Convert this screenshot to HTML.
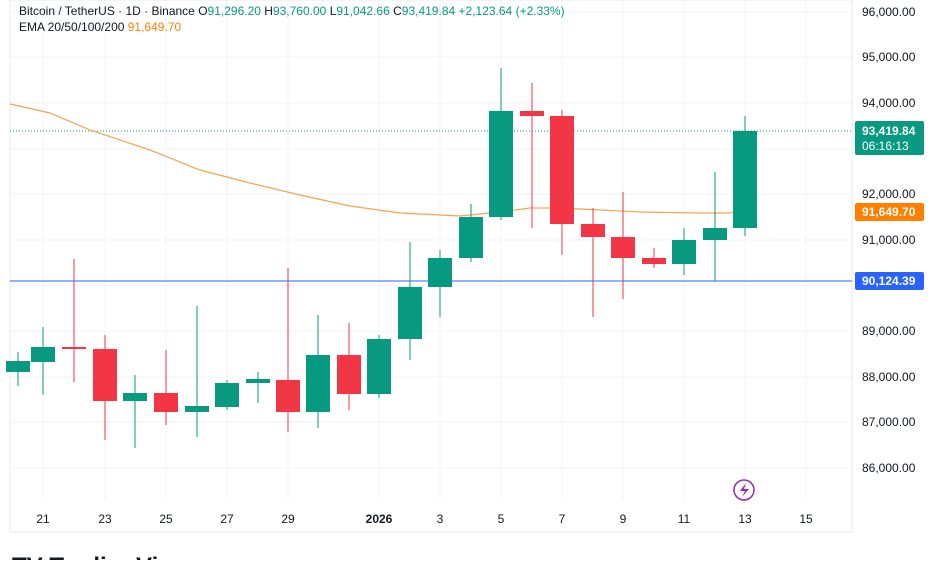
<!DOCTYPE html>
<html><head><meta charset="utf-8"><style>
body{margin:0;background:#fff;width:940px;height:560px;overflow:hidden;font-family:"Liberation Sans",sans-serif}
</style></head><body>
<svg width="940" height="560" xmlns="http://www.w3.org/2000/svg" font-family="Liberation Sans, sans-serif">
<rect width="940" height="560" fill="#fff"/>
<g stroke="#f0f3fa" stroke-width="1">
<line x1="43" y1="0" x2="43" y2="500"/><line x1="105" y1="0" x2="105" y2="500"/><line x1="166" y1="0" x2="166" y2="500"/><line x1="227" y1="0" x2="227" y2="500"/><line x1="288" y1="0" x2="288" y2="500"/><line x1="379" y1="0" x2="379" y2="500"/><line x1="440" y1="0" x2="440" y2="500"/><line x1="501" y1="0" x2="501" y2="500"/><line x1="562" y1="0" x2="562" y2="500"/><line x1="623" y1="0" x2="623" y2="500"/><line x1="684" y1="0" x2="684" y2="500"/><line x1="745" y1="0" x2="745" y2="500"/><line x1="806" y1="0" x2="806" y2="500"/>
<line x1="10" y1="12" x2="852" y2="12"/><line x1="10" y1="57" x2="852" y2="57"/><line x1="10" y1="103" x2="852" y2="103"/><line x1="10" y1="149" x2="852" y2="149"/><line x1="10" y1="194" x2="852" y2="194"/><line x1="10" y1="240" x2="852" y2="240"/><line x1="10" y1="286" x2="852" y2="286"/><line x1="10" y1="331" x2="852" y2="331"/><line x1="10" y1="377" x2="852" y2="377"/><line x1="10" y1="422" x2="852" y2="422"/><line x1="10" y1="468" x2="852" y2="468"/>
</g>
<rect x="10" y="0" width="842" height="532" fill="none" stroke="#e6e8ee"/>
<line x1="852" y1="0" x2="852" y2="532" stroke="#e6e8ee"/>
<line x1="10" y1="281" x2="852" y2="281" stroke="#2962ff" stroke-width="1"/>
<line x1="10" y1="131" x2="852" y2="131" stroke="#089981" stroke-dasharray="1 2"/>
<polyline fill="none" stroke="#f7a350" stroke-width="1.2" points="10,104 50,113 90,130 150,150 200,170 250,183 300,195 350,206 400,213 460,216 500,212 530,208 560,208 600,210 640,212 700,213 730,213 745,210"/>
<g id="c"></g>
<g font-size="12" fill="#131722">
<text x="862" y="16">96,000.00</text><text x="862" y="61">95,000.00</text><text x="862" y="107">94,000.00</text><text x="862" y="198">92,000.00</text><text x="862" y="244">91,000.00</text><text x="862" y="335">89,000.00</text><text x="862" y="381">88,000.00</text><text x="862" y="426">87,000.00</text><text x="862" y="472">86,000.00</text>
</g>
<rect x="855" y="121" width="69" height="34" rx="2" fill="#089981"/>
<text x="862" y="135" font-size="12" font-weight="bold" fill="#fff">93,419.84</text>
<text x="862" y="150" font-size="12" fill="#fff">06:16:13</text>
<rect x="855" y="203" width="69" height="18" rx="2" fill="#ff7f00"/>
<text x="862" y="216" font-size="12" font-weight="bold" fill="#fff">91,649.70</text>
<rect x="855" y="272" width="69" height="18" rx="2" fill="#2962ff"/>
<text x="862" y="285" font-size="12" font-weight="bold" fill="#fff">90,124.39</text>
<g font-size="12" fill="#131722" text-anchor="middle">
<text x="43" y="523">21</text><text x="105" y="523">23</text><text x="166" y="523">25</text><text x="227" y="523">27</text><text x="288" y="523">29</text><text x="379" y="523" font-weight="bold">2026</text><text x="440" y="523">3</text><text x="501" y="523">5</text><text x="562" y="523">7</text><text x="623" y="523">9</text><text x="684" y="523">11</text><text x="745" y="523">13</text><text x="806" y="523">15</text>
</g>
<text x="19" y="15" font-size="12" fill="#131722">Bitcoin / TetherUS · 1D · Binance <tspan fill="#131722">O</tspan><tspan fill="#089981">91,296.20</tspan> <tspan>H</tspan><tspan fill="#089981">93,760.00</tspan> <tspan>L</tspan><tspan fill="#089981">91,042.66</tspan> <tspan>C</tspan><tspan fill="#089981">93,419.84</tspan> <tspan fill="#089981">+2,123.64 (+2.33%)</tspan></text>
<text x="19" y="31" font-size="12" fill="#131722">EMA 20/50/100/200 <tspan fill="#ff7f00">91,649.70</tspan></text>
<circle cx="744" cy="490" r="10" fill="none" stroke="#9c27b0" stroke-width="1.5"/>
<path d="M746 483 L740 491 L745 491 L742 497 L749 489 L744 489 Z" fill="#9c27b0"/>
<text x="12" y="574" font-size="24" font-weight="bold" fill="#131722">TV TradingView</text>
</svg>
<script>
var d=[[18,361,372,352,386,1],[43,347,362,327,395,1],[74,347,349,259,382,0],[105,349,401,335,440,0],[135,393,401,375,448,1],[166,393,412,350,425,0],[197,406,412,306,437,1],[227,383,407,380,410,1],[258,379,383,372,403,1],[288,380,412,268,432,0],[318,355,412,315,428,1],[349,355,394,323,410,0],[379,339,394,335,398,1],[410,287,339,242,360,1],[440,258,287,250,317,1],[471,217,258,204,262,1],[501,111,217,68,220,1],[532,111,116,83,228,0],[562,116,224,110,255,0],[593,224,237,208,317,0],[623,237,258,192,299,0],[654,258,264,248,268,0],[684,240,264,228,275,1],[715,228,240,172,281,1],[745,131,228,116,236,1]];
var s='';d.forEach(function(c){var col=c[5]?'#089981':'#f23645';s+='<line x1="'+c[0]+'" x2="'+c[0]+'" y1="'+c[3]+'" y2="'+c[4]+'" stroke="'+col+'"/><rect x="'+(c[0]-12)+'" y="'+c[1]+'" width="24" height="'+Math.max(2,c[2]-c[1])+'" fill="'+col+'"/>';});
document.getElementById('c').innerHTML=s;
</script>
</body></html>
